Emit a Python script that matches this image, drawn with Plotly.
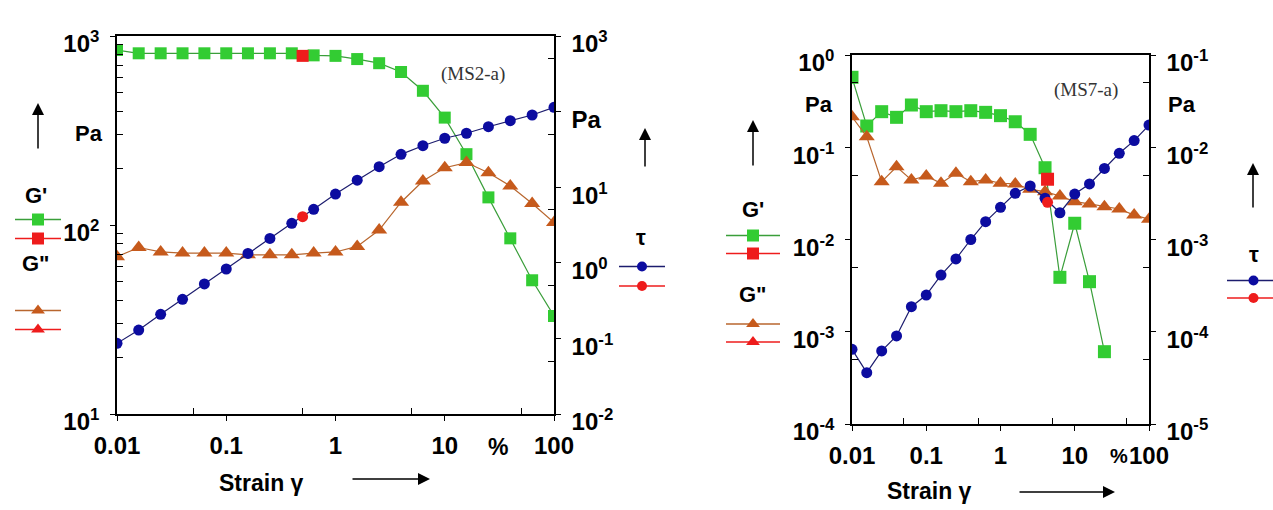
import plotly.graph_objects as go

W, H = 1273, 510

# ---------------- data ----------------
strain = [0.01, 0.0158, 0.0251, 0.0398, 0.0631, 0.1, 0.158, 0.251, 0.398, 0.631,
          1, 1.58, 2.51, 3.98, 6.31, 10, 15.8, 25.1, 39.8, 63.1, 100]

# MS2-a
ms2_gp = [843, 810, 810, 810, 810, 810, 810, 810, 810, 790,
          785, 755, 718, 645, 513, 370, 237, 140, 85, 51, 33]
ms2_gpp = [68, 76, 72, 71, 71, 71, 69.5, 69.5, 69.5, 71,
           72, 77, 94, 132, 171, 201, 214, 189, 161, 130, 103]
ms2_tau = [0.086, 0.129, 0.208, 0.329, 0.525, 0.828, 1.33, 2.10, 3.33, 5.1,
           8.1, 12.4, 18.7, 27.2, 35.4, 44.4, 51.7, 63.1, 75.8, 90.2, 114]
ms2_red_strain = [0.5]
ms2_red_gp = [785]
ms2_red_tau = [4.07]

# MS7-a
ms7_gp_strain = strain[:18]
ms7_gp = [0.573, 0.170, 0.243, 0.211, 0.287, 0.243, 0.249, 0.243, 0.249, 0.239,
          0.220, 0.189, 0.138, 0.060, 0.00389, 0.0150, 0.00349, 0.000608]
ms7_gpp = [0.214, 0.130, 0.0423, 0.0615, 0.0442, 0.0488, 0.0407, 0.0522, 0.0423, 0.0442,
           0.0407, 0.040, 0.035, 0.033, 0.0296, 0.0257, 0.0243, 0.0227, 0.0214, 0.0184, 0.0166]
ms7_tau = [6.45e-5, 3.6e-5, 6.2e-5, 9.0e-5, 1.87e-4, 2.5e-4, 4.12e-4, 6.15e-4, 1.0e-3, 1.56e-3,
           2.23e-3, 3.17e-3, 3.8e-3, 2.8e-3, 1.95e-3, 3.11e-3, 4.0e-3, 5.9e-3, 8.6e-3, 0.0118, 0.0174]
ms7_red_strain = [4.3]
ms7_red_gp = [0.045]
ms7_red_tau = [0.00253]

# tick labels
x_tickvals = [0.01, 0.1, 1, 10, 100]
x_ticktext = ["0.01", "0.1", "1", "10", "100"]
ms2_left_tickvals = [10, 100, 1000]
ms2_left_ticktext = ["10<sup>1</sup>", "10<sup>2</sup>", "10<sup>3</sup>"]
ms2_right_tickvals = [0.01, 0.1, 1, 10, 100, 1000]
ms2_right_ticktext = ["10<sup>-2</sup>", "10<sup>-1</sup>", "10<sup>0</sup>", "10<sup>1</sup>", "Pa", "10<sup>3</sup>"]
ms7_left_tickvals = [1e-4, 1e-3, 1e-2, 1e-1, 1]
ms7_left_ticktext = ["10<sup>-4</sup>", "10<sup>-3</sup>", "10<sup>-2</sup>", "10<sup>-1</sup>", "10<sup>0</sup>"]
ms7_right_tickvals = [1e-5, 1e-4, 1e-3, 1e-2, 1e-1]
ms7_right_ticktext = ["10<sup>-5</sup>", "10<sup>-4</sup>", "10<sup>-3</sup>", "10<sup>-2</sup>", "10<sup>-1</sup>"]

# ---------------- style ----------------
GREEN_M, GREEN_L = "#33cc33", "#3a9e3a"
BROWN_M, BROWN_L = "#c65a1c", "#b8662e"
BLUE_M, BLUE_L = "#0c0ca0", "#1c1c6e"
RED = "#ee1c1c"
FONT = "Liberation Sans"
BOLD = dict(family=FONT, size=24, color="black", weight="bold")


def fives(lo, hi):
    return [5 * 10 ** e for e in range(lo, hi)]


def two_to_nine(lo, hi):
    return [m * 10 ** e for e in range(lo, hi) for m in range(2, 10)]


def px_x(p):
    return p / W


def px_y(p):
    return 1 - p / H


# plot areas in pixels
L_X0, L_X1, L_Y0, L_Y1 = 117, 554, 36, 414
R_X0, R_X1, R_Y0, R_Y1 = 852, 1149, 55, 424

fig = go.Figure()


def series(x, y, xa, ya, sym, mc, lc, size, name):
    fig.add_trace(go.Scatter(x=x, y=y, xaxis=xa, yaxis=ya, mode="lines+markers",
                             marker=dict(symbol=sym, color=mc, size=size, line=dict(width=0)),
                             line=dict(color=lc, width=1.2), name=name, showlegend=False))


# MS2-a
series(strain, ms2_gp, "x", "y", "square", GREEN_M, GREEN_L, 12, "G'")
series(strain, ms2_gpp, "x", "y", "triangle-up", BROWN_M, BROWN_L, 14, 'G"')
series(strain, ms2_tau, "x", "y2", "circle", BLUE_M, BLUE_L, 11, "tau")
series(ms2_red_strain, ms2_red_gp, "x", "y", "square", RED, RED, 12, "G' red")
series(ms2_red_strain, ms2_red_tau, "x", "y2", "circle", RED, RED, 11, "tau red")
# MS7-a
series(ms7_gp_strain, ms7_gp, "x2", "y3", "square", GREEN_M, GREEN_L, 13, "G'")
series(strain, ms7_gpp, "x2", "y3", "triangle-up", BROWN_M, BROWN_L, 14, 'G"')
series(strain, ms7_tau, "x2", "y4", "circle", BLUE_M, BLUE_L, 11, "tau")
series(ms7_red_strain, ms7_red_gp, "x2", "y3", "square", RED, RED, 13, "G' red")
series(ms7_red_strain, ms7_red_tau, "x2", "y4", "circle", RED, RED, 11, "tau red")


def xaxis_cfg(x0, x1, anchor, minor_vals):
    return dict(domain=[px_x(x0), px_x(x1)], anchor=anchor, type="log", range=[-2, 2],
                automargin=False,
                showline=True, linecolor="black", linewidth=1.6, mirror=True,
                showgrid=False, zeroline=False,
                tickmode="array", tickvals=x_tickvals, ticktext=x_ticktext,
                ticks="outside", ticklen=5, tickwidth=1.3, tickcolor="black",
                tickfont=BOLD, ticklabelstandoff=4,
                minor=dict(tickmode="array", tickvals=minor_vals, ticks="inside",
                           ticklen=6, tickwidth=1.1, tickcolor="black", showgrid=False))


def yaxis_cfg(y0, y1, anchor, rng, tv, tt, minor_vals, side="left", overlaying=None):
    d = dict(domain=[px_y(y1), px_y(y0)], anchor=anchor, type="log", range=rng, side=side,
             automargin=False,
             showline=True, linecolor="black", linewidth=1.6, showgrid=False, zeroline=False,
             tickmode="array", tickvals=tv, ticktext=tt,
             ticks="outside", ticklen=5, tickwidth=1.3, tickcolor="black",
             tickfont=BOLD, ticklabelstandoff=6, ticklabelshift=8,
             minor=dict(tickmode="array", tickvals=minor_vals, ticks="inside",
                        ticklen=6, tickwidth=1.1, tickcolor="black", showgrid=False))
    if overlaying:
        d["overlaying"] = overlaying
        d.pop("domain")
    return d


def inner_ticks(base, tv, rng, anchor, side=None):
    d = dict(overlaying=base, anchor=anchor, type="log", range=rng, showline=False,
             automargin=False,
             showgrid=False, zeroline=False, tickmode="array", tickvals=tv,
             ticks="inside", ticklen=9, tickwidth=1.3, tickcolor="black",
             showticklabels=False)
    if side:
        d["side"] = side
    return d


fig.update_layout(
    xaxis=xaxis_cfg(L_X0, L_X1, "y", fives(-2, 2)),
    yaxis=yaxis_cfg(L_Y0, L_Y1, "x", [1, 3], ms2_left_tickvals, ms2_left_ticktext, two_to_nine(1, 3)),
    yaxis2=yaxis_cfg(L_Y0, L_Y1, "x", [-2, 3], ms2_right_tickvals, ms2_right_ticktext,
                     fives(-2, 3), side="right", overlaying="y"),
    xaxis2=xaxis_cfg(R_X0, R_X1, "y3", fives(-2, 2)),
    yaxis3=yaxis_cfg(R_Y0, R_Y1, "x2", [-4, 0], ms7_left_tickvals, ms7_left_ticktext, fives(-4, 0)),
    yaxis4=yaxis_cfg(R_Y0, R_Y1, "x2", [-5, -1], ms7_right_tickvals, ms7_right_ticktext,
                     fives(-5, -1), side="right", overlaying="y3"),
    # inward halves of the major ticks
    xaxis5=inner_ticks("x", x_tickvals, [-2, 2], "y"),
    yaxis5=inner_ticks("y", ms2_left_tickvals, [1, 3], "x", side="left"),
    yaxis6=inner_ticks("y", ms2_right_tickvals, [-2, 3], "x", side="right"),
    xaxis6=inner_ticks("x2", x_tickvals, [-2, 2], "y3"),
    yaxis7=inner_ticks("y3", ms7_left_tickvals, [-4, 0], "x2", side="left"),
    yaxis8=inner_ticks("y3", ms7_right_tickvals, [-5, -1], "x2", side="right"),
    # pixel space for decorations
    xaxis9=dict(domain=[0, 1], range=[0, W], visible=False, anchor="y9", fixedrange=True,
                automargin=False),
    yaxis9=dict(domain=[0, 1], range=[H, 0], visible=False, anchor="x9", fixedrange=True,
                automargin=False),
)

# legend keys drawn in pixel space
legend_keys = [
    # (x0, x1, y, symbol, marker color, line color)
    (15, 61, 219.5, "square", GREEN_M, GREEN_L),
    (15, 61, 238.5, "square", RED, RED),
    (15, 61, 310.5, "triangle-up", BROWN_M, BROWN_L),
    (15, 61, 329.5, "triangle-up", RED, RED),
    (619, 665, 266.5, "circle", BLUE_M, BLUE_L),
    (619, 665, 286, "circle", RED, RED),
    (726, 780, 235.5, "square", GREEN_M, GREEN_L),
    (726, 780, 253.5, "square", RED, RED),
    (726, 780, 324, "triangle-up", BROWN_M, BROWN_L),
    (726, 780, 342, "triangle-up", RED, RED),
    (1227, 1280, 280.5, "circle", BLUE_M, BLUE_L),
    (1227, 1280, 298, "circle", RED, RED),
]
for x0, x1, y, sym, mc, lc in legend_keys:
    fig.add_trace(go.Scatter(x=[x0, x1], y=[y, y], xaxis="x9", yaxis="y9", mode="lines",
                             line=dict(color=lc, width=1.4), showlegend=False, hoverinfo="skip"))
    fig.add_trace(go.Scatter(x=[(x0 + x1) / 2], y=[y], xaxis="x9", yaxis="y9", mode="markers",
                             marker=dict(symbol=sym, color=mc, size=12 if sym != "circle" else 10),
                             showlegend=False, hoverinfo="skip"))

ann = []


def text(x, y, s, size=22, family=FONT, bold=True, color="black"):
    f = dict(family=family, size=size, color=color)
    if bold:
        f["weight"] = "bold"
    ann.append(dict(x=x, y=y, xref="x9", yref="y9", text=s, showarrow=False, font=f,
                    xanchor="center", yanchor="middle"))


def arrow(x0, y0, x1, y1):
    ann.append(dict(x=x1, y=y1, ax=x0, ay=y0, xref="x9", yref="y9", axref="x9", ayref="y9",
                    text="", showarrow=True, arrowhead=2, arrowsize=1.6, arrowwidth=1.5,
                    arrowcolor="black", standoff=0, startstandoff=0))


# left chart decorations
text(89, 133, "Pa")
text(36, 195, "G'")
text(36, 263, 'G"')
text(641, 237, "τ")
text(473, 74, "(MS2-a)", size=19, family="Liberation Serif", bold=False, color="#333333")
text(261, 483, "Strain γ", size=23)
text(498, 447, "%", size=23)
arrow(38, 150, 38, 103)
arrow(645, 168, 645, 128)
arrow(351, 479, 430, 479)

# right chart decorations
text(819, 104, "Pa")
text(1182, 104, "Pa")
text(753, 209, "G'")
text(753, 294, 'G"')
text(1254, 254, "τ")
text(1086, 90, "(MS7-a)", size=19, family="Liberation Serif", bold=False, color="#333333")
text(929, 491, "Strain γ", size=23)
text(1119, 456, "%", size=20)
arrow(753, 167, 753, 120)
arrow(1253, 209, 1253, 163)
arrow(1018, 492, 1115, 492)

fig.update_layout(annotations=ann, width=W, height=H, autosize=False,
                  margin=dict(l=0, r=0, t=0, b=0), paper_bgcolor="white", plot_bgcolor="rgba(0,0,0,0)",
                  showlegend=False)

fig.write_html("out.html")
